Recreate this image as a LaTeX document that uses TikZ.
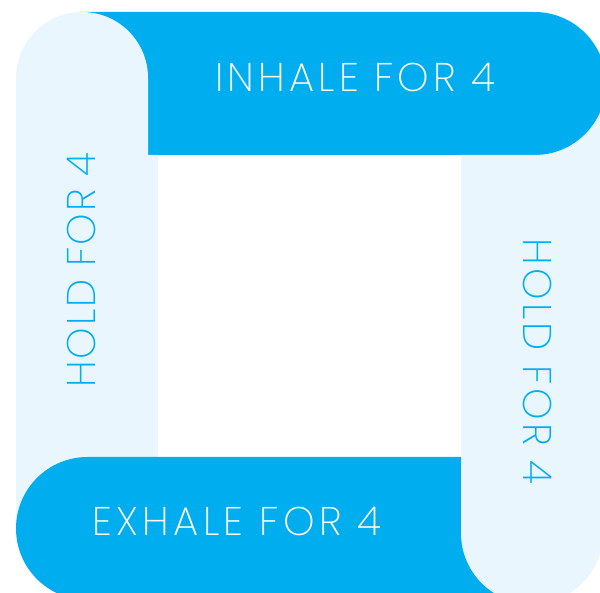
\documentclass[tikz,border=0pt]{standalone}
\usepackage{fontspec}
\newfontfamily\thinfontI{Poppins ExtraLight}[LetterSpace=10.5]
\newfontfamily\thinfontE{Poppins ExtraLight}[LetterSpace=11.2]
\newfontfamily\thinfontL{Poppins ExtraLight}[LetterSpace=4.7]
\newfontfamily\thinfontR{Poppins ExtraLight}[LetterSpace=8.5]
\definecolor{bblue}{HTML}{00AEEF}
\definecolor{pale}{HTML}{EAF6FE}
\begin{document}
\begin{tikzpicture}[x=1pt,y=1pt,
  label/.style={inner sep=0pt},
  white label/.style={label,text=white},
  blue label/.style={label,text=bblue}]
\useasboundingbox (0,0) rectangle (600,592);
\clip (0,0) rectangle (600,592);
% pale right, top piece (under the blue top bar)
\fill[pale] (461,437) rectangle (603,508);
% blue top bar
\fill[bblue] (80,580) -- (534.5,580) arc[start angle=90,end angle=-90,radius=71.5] -- (80,437) -- cycle;
% pale left bar
\fill[pale] (16,64) -- (16,514) arc[start angle=180,end angle=0,radius=66] -- (148,437) -- (158,437) -- (158,64) -- cycle;
% blue bottom bar
\fill[bblue] (532,135) -- (87.5,135) arc[start angle=90,end angle=270,radius=71.5] -- (532,-8) -- cycle;
% pale right bar
\fill[pale] (461,437) -- (461,59) arc[start angle=180,end angle=360,radius=71] -- (603,437) -- cycle;
% texts
\node[white label,font=\thinfontI\fontsize{40}{40}\selectfont,anchor=base west] (inhale) at (215,500.3) {INHALE FOR 4};
\node[white label,font=\thinfontE\fontsize{40}{40}\selectfont,anchor=base west] (exhale) at (92,56.3) {EXHALE FOR 4};
\node[blue label,font=\thinfontL\fontsize{40}{40}\selectfont,anchor=base west,rotate=90] (holdl) at (95,204) {HOLD FOR 4};
\node[blue label,font=\thinfontR\fontsize{40}{40}\selectfont,anchor=base west,rotate=-90] (holdr) at (523,354) {HOLD FOR 4};
\end{tikzpicture}
\end{document}
